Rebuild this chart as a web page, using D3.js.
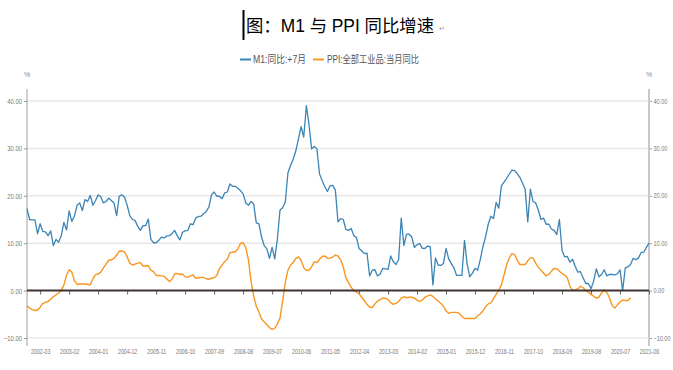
<!DOCTYPE html>
<html><head><meta charset="utf-8">
<script src="https://cdn.jsdelivr.net/npm/d3@7"></script>
<style>body{margin:0;background:#fff;} svg{display:block;}</style>
</head><body><svg id="c" width="673" height="370"></svg>
<script>
// ---------- data ----------
const titleText = "图：M1 与 PPI 同比增速";
const seriesNames = ["M1:同比:+7月", "PPI:全部工业品:当月同比"];
const firstMonth = [2001, 10];   // first category on the date axis
const lastMonth = [2021, 6];     // last category on the date axis

// M1 yoy (%), shifted +7 months, one value per month from 2001-10
const m1Values = [
17.3,15.0,14.9,14.9,12.0,14.1,12.5,12.4,11.6,12.6,
9.5,10.8,10.2,11.6,14.4,12.8,16.8,14.6,15.7,18.0,
18.5,16.9,19.2,18.8,20.1,18.0,19.0,20.2,19.8,18.5,
18.8,19.5,19.0,18.5,15.8,19.9,20.2,19.7,18.0,15.8,
15.0,14.8,13.6,12.7,13.7,13.7,15.1,10.8,10.1,10.1,
10.6,11.3,11.1,11.5,11.6,12.0,12.7,11.6,10.7,12.3,
12.6,12.7,14.1,13.9,15.3,15.6,15.7,16.2,16.7,17.6,
20.2,20.8,19.9,19.9,19.4,20.6,20.8,22.5,22.0,22.0,
21.6,21.1,20.4,18.5,18.0,18.8,18.3,14.3,14.1,11.3,
9.5,8.8,6.8,9.1,6.7,10.9,17.0,17.5,18.7,24.8,
26.4,27.7,29.5,32.0,34.6,32.4,39.0,35.0,29.9,30.4,
29.9,24.6,23.2,21.9,20.9,22.1,22.2,21.2,14.5,15.2,
15.0,12.9,12.7,13.1,11.6,11.2,8.9,8.4,7.8,7.9,
3.1,4.3,4.4,3.1,3.5,4.7,4.6,4.5,7.3,6.1,5.5,6.5,
15.3,9.5,11.9,11.9,11.3,9.1,9.7,9.9,8.9,8.9,9.4,9.3,
1.2,6.9,5.4,5.3,5.7,8.9,6.7,5.7,4.8,3.2,3.2,3.2,
10.6,5.6,2.9,3.7,4.7,4.3,6.6,9.3,11.4,14.0,15.7,15.2,
18.6,17.4,
22.1,22.9,23.7,24.6,25.4,25.3,24.7,23.9,22.7,21.4,
14.5,21.4,18.8,18.5,17.0,15.0,15.3,14.0,14.0,13.0,12.7,11.8,
15.0,8.5,7.1,7.2,6.0,6.6,5.1,3.9,4.0,2.7,1.5,1.5,
0.4,2.0,4.6,2.9,3.4,4.4,3.1,3.4,3.4,3.3,3.5,4.4,
0.0,4.8,5.0,5.5,6.8,6.5,6.9,8.0,8.1,9.1,10.0
];

// PPI yoy (%), one value per month from 2001-10
const ppiValues = [
-3.2,-3.7,-4.0,-4.2,-4.1,-3.5,-2.7,-2.5,-2.3,-1.8,
-1.3,-0.9,-0.5,0.0,1.2,3.2,4.4,3.9,2.1,1.3,
1.4,1.4,1.4,1.3,1.2,2.5,3.3,3.5,3.9,4.8,
5.6,6.4,6.5,6.8,7.5,8.3,8.4,8.1,7.1,5.8,
5.4,5.6,5.8,5.9,5.2,5.2,5.3,4.3,4.0,3.2,
3.2,3.1,3.0,2.5,1.9,2.4,3.5,3.6,3.4,3.5,
2.9,2.8,3.1,
3.3,2.6,2.7,2.8,2.8,2.5,2.4,2.6,2.7,3.2,4.6,5.4,
6.1,6.6,8.0,8.1,8.2,8.8,10.0,10.1,9.1,6.6,2.0,-1.1,
-3.3,-4.5,-6.0,-6.6,-7.2,-7.8,-8.2,-7.9,-7.0,-5.8,-2.1,1.7,
4.3,5.4,5.9,6.8,7.1,6.4,4.8,4.3,4.3,5.0,6.1,5.9,
6.6,7.2,7.3,6.8,6.8,7.1,7.5,7.3,6.5,5.0,2.7,1.7,
0.7,0.0,-0.3,-0.7,-1.4,-2.1,-2.9,-3.5,-3.6,-2.8,-2.2,-1.9,
-1.6,-1.6,-1.9,-2.6,-2.9,-2.7,-2.3,-1.6,-1.3,-1.5,-1.4,-1.4,
-1.6,-2.0,-2.3,-2.0,-1.4,-1.1,-0.9,-1.2,-1.8,-2.2,-2.7,-3.3,
-4.3,-4.8,-4.6,-4.6,-4.6,-4.8,-5.4,-5.9,-5.9,-5.9,-5.9,-5.9,
-5.3,-4.9,-4.3,-3.4,-2.8,-2.6,-1.7,-0.8,0.1,1.2,3.3,5.5,
6.9,7.8,7.6,6.4,5.5,5.5,5.5,6.3,6.9,6.9,5.8,4.9,
4.3,3.7,3.1,3.4,4.1,4.7,4.6,4.1,3.6,3.3,2.7,0.9,
0.1,0.1,0.4,0.9,0.6,0.0,-0.3,-0.8,-1.2,-1.6,-1.4,-0.5,
0.1,-0.4,-1.5,-3.1,-3.7,-3.0,-2.4,-2.0,-2.1,-2.1,-1.5
];

const yTicks = [-10, 0, 10, 20, 30, 40];
const xTickLabels = ["2002-03","2003-02","2004-01","2004-12","2005-11","2006-10","2007-09","2008-08","2009-07","2010-06","2011-05","2012-04","2013-03","2014-02","2015-01","2015-12","2016-11","2017-10","2018-09","2019-08","2020-07","2021-06"];

// ---------- drawing ----------
const fmtM = d3.timeFormat("%Y-%m");
const dates = d3.timeMonth.range(new Date(firstMonth[0], firstMonth[1]-1, 1), new Date(lastMonth[0], lastMonth[1], 1)).map(fmtM);

const svg = d3.select("#c");
const L = 27, R = 649;
const x = d3.scalePoint().domain(dates).range([L, R]);
const y = d3.scaleLinear().domain([-10, 40]).range([338, 101]);
const BLUE = "#3a84b6", ORANGE = "#f8961f";
const smallFont = "'Liberation Sans', Arial, sans-serif";
const cjkFont = "'Liberation Sans', 'Noto Sans CJK SC', sans-serif";

function squeeze(sel, k) {
  sel.each(function () {
    const len = this.getComputedTextLength();
    this.setAttribute("textLength", len * k);
    this.setAttribute("lengthAdjust", "spacingAndGlyphs");
  });
}

// title
svg.append("rect").attr("x", 242.5).attr("y", 10).attr("width", 2).attr("height", 30).attr("fill", "#000");
svg.append("text").attr("x", 246).attr("y", 32)
  .attr("font-family", cjkFont).attr("font-size", 17.6).attr("fill", "#000").text(titleText)
  .attr("textLength", 188).attr("lengthAdjust", "spacingAndGlyphs");
svg.append("text").attr("x", 439).attr("y", 31).attr("font-family", "'DejaVu Sans', sans-serif")
  .attr("font-size", 7).attr("fill", "#999").text("↵");

// legend
const lg = [
  {name: seriesNames[0], color: BLUE, x0: 240, tx: 253, w: 53},
  {name: seriesNames[1], color: ORANGE, x0: 313, tx: 327, w: 92}
];
lg.forEach(d => {
  svg.append("line").attr("x1", d.x0).attr("x2", d.x0 + 11).attr("y1", 59.5).attr("y2", 59.5)
    .attr("stroke", d.color).attr("stroke-width", 2);
  svg.append("text").attr("x", d.tx).attr("y", 63).attr("font-family", cjkFont)
    .attr("font-size", 10).attr("fill", "#555").text(d.name)
    .attr("textLength", d.w).attr("lengthAdjust", "spacingAndGlyphs");
});

// % labels
svg.append("text").attr("x", 27).attr("y", 77).attr("text-anchor", "middle")
  .attr("font-family", smallFont).attr("font-size", 7).attr("fill", "#888").text("%");
svg.append("text").attr("x", 649).attr("y", 77).attr("text-anchor", "middle")
  .attr("font-family", smallFont).attr("font-size", 7).attr("fill", "#888").text("%");

// grid
svg.append("g").selectAll("line").data(yTicks.filter(d => d !== 0)).join("line")
  .attr("x1", L).attr("x2", R).attr("y1", d => y(d)).attr("y2", d => y(d))
  .attr("stroke", "#e8e8e8").attr("stroke-width", 1.5);

// left axis
const gl = svg.append("g").attr("transform", `translate(${L},0)`)
  .call(d3.axisLeft(y).tickValues(yTicks).tickFormat(d3.format(".2f")).tickSize(3).tickPadding(2));
gl.select(".domain").remove();
gl.selectAll(".tick line").attr("stroke", "#999");
gl.selectAll(".tick text").attr("font-family", smallFont).attr("font-size", 7.5).attr("fill", "#777").call(squeeze, 0.78);
svg.append("line").attr("x1", L).attr("x2", L).attr("y1", 89).attr("y2", 346).attr("stroke", "#a0a0a0").attr("stroke-width", 1);

// right axis
const gr = svg.append("g").attr("transform", `translate(${R},0)`)
  .call(d3.axisRight(y).tickValues(yTicks).tickFormat(d3.format(".2f")).tickSize(3).tickPadding(1.5));
gr.select(".domain").remove();
gr.selectAll(".tick line").attr("stroke", "#999");
gr.selectAll(".tick text").attr("font-family", smallFont).attr("font-size", 6.4).attr("fill", "#777").call(squeeze, 0.86);
svg.append("line").attr("x1", R).attr("x2", R).attr("y1", 89).attr("y2", 346).attr("stroke", "#c8c8c8").attr("stroke-width", 2);

// x ticks on zero line
const gz = svg.append("g").attr("transform", `translate(0,${y(0)})`)
  .call(d3.axisBottom(x).tickValues(xTickLabels).tickSize(4).tickFormat(""));
gz.select(".domain").remove();
gz.selectAll(".tick line").attr("stroke", "#666");

// x labels at bottom
const gb = svg.append("g").attr("transform", `translate(0,347)`)
  .call(d3.axisBottom(x).tickValues(xTickLabels).tickSize(0).tickPadding(2));
gb.select(".domain").remove();
gb.selectAll(".tick text").attr("font-family", smallFont).attr("font-size", 7.5).attr("fill", "#777").call(squeeze, 0.7);

// series
const line = d3.line().x((d, i) => x(dates[i])).y(d => y(d));
svg.append("path").datum(ppiValues).attr("d", line).attr("fill", "none")
  .attr("stroke", ORANGE).attr("stroke-width", 1.4).attr("stroke-linejoin", "round");
svg.append("path").datum(m1Values).attr("d", line).attr("fill", "none")
  .attr("stroke", BLUE).attr("stroke-width", 1.3).attr("stroke-linejoin", "round");

// zero line
svg.append("line").attr("x1", L).attr("x2", R).attr("y1", y(0)).attr("y2", y(0))
  .attr("stroke", "#3e3232").attr("stroke-width", 2);
</script>
</body></html>
